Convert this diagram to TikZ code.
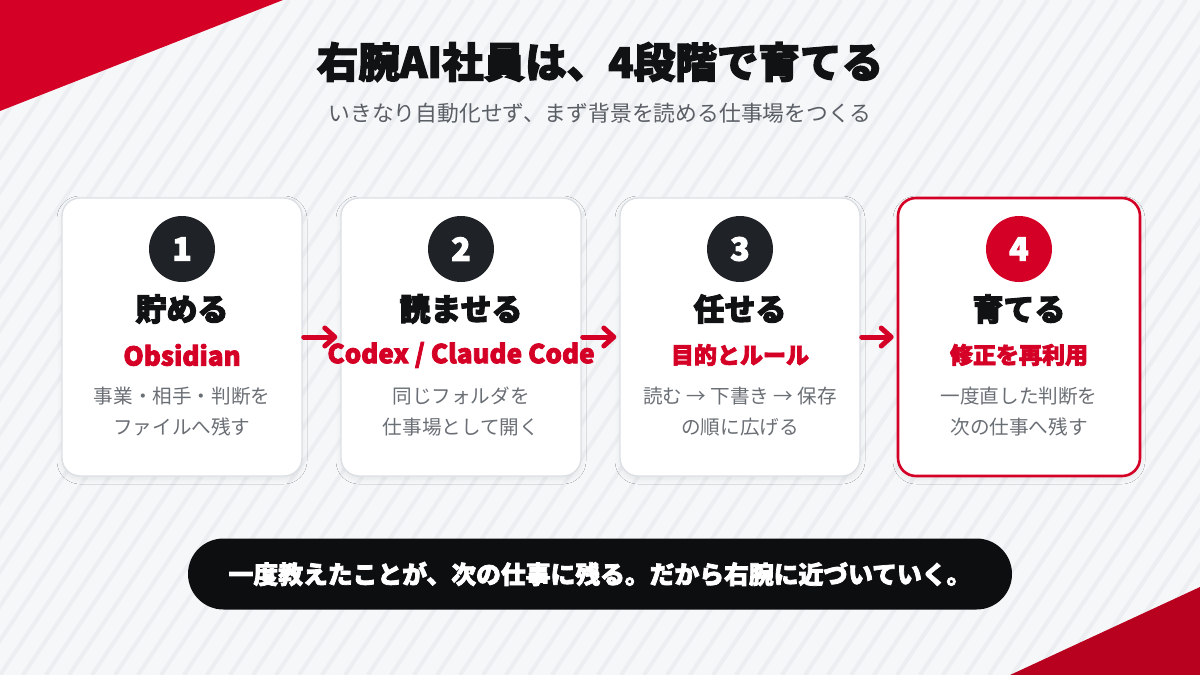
\documentclass[tikz,border=0pt]{standalone}
\usepackage{fontspec}
\setmainfont{Noto Sans CJK JP}
\newfontfamily\heavyfont[BoldFeatures={FakeBold=3}]{Noto Sans CJK JP}
\usetikzlibrary{arrows.meta,shadows.blur}

\definecolor{paper}{HTML}{F6F7F9}
\definecolor{stripegray}{HTML}{ECEEF1}
\definecolor{brandred}{HTML}{D50026}
\definecolor{deepred}{HTML}{B8001F}
\definecolor{ink}{HTML}{111213}
\definecolor{dotdark}{HTML}{1F2226}
\definecolor{textgray}{HTML}{5A5F65}
\definecolor{descgray}{HTML}{6A6F75}
\definecolor{cardline}{HTML}{DCE0E4}
\definecolor{pillblack}{HTML}{0D0E10}

\newcommand\latinbig{\fontsize{13}{14}\selectfont}

\tikzset{
  stripe/.style={stripegray, line width=2pt},
  card/.style={draw=cardline, line width=0.7pt, fill=white, rounded corners=9pt,
    minimum width=120pt, minimum height=139pt,
    blur shadow={shadow xshift=0pt, shadow yshift=-1.5pt, shadow opacity=7,
      shadow blur radius=2.5pt, shadow blur steps=6}},
  cardhot/.style={card, draw=brandred, line width=1.3pt, minimum width=121pt},
  numdark/.style={circle, fill=dotdark, minimum size=33pt, inner sep=0pt, text=white,
    font=\heavyfont\bfseries\fontsize{16}{16}\selectfont},
  numhot/.style={numdark, fill=brandred},
  headtext/.style={text=ink, font=\heavyfont\bfseries\fontsize{15.5}{16}\selectfont},
  tooltext/.style={text=brandred, font=\heavyfont\bfseries\fontsize{11.5}{12}\selectfont},
  desctext/.style={text=descgray, align=center, font=\fontsize{9.8}{15.5}\selectfont},
  flowarrow/.style={brandred, line width=2.5pt, line cap=round,
    -{Straight Barb[length=5pt, width=9pt, line width=2.5pt, round]},
    shorten <=0.5pt, shorten >=1.5pt}
}

\begin{document}
\begin{tikzpicture}[x=0.5pt, y=-0.5pt]
\useasboundingbox (0,0) rectangle (1200,675);
% background
\fill[paper] (0,0) rectangle (1200,675);
\begin{scope}
\clip (0,0) rectangle (1200,675);
\foreach \s in {-460,-437,...,1200}
  \draw[stripe] (\s,675) -- ++(450,-675);
\end{scope}
\fill[brandred] (0,0) -- (283,0) -- (0,111) -- cycle;
\fill[deepred] (1200,587) -- (1200,675) -- (1010,675) -- cycle;

% heading
\node[text=ink, font=\heavyfont\bfseries\fontsize{20.8}{22}\selectfont] (title) at (600,62) {右腕AI社員は、4段階で育てる};
\node[text=textgray, font=\fontsize{10.9}{12}\selectfont] (subtitle) at (600,113) {いきなり自動化せず、まず背景を読める仕事場をつくる};

% four stages
\foreach \i/\cx/\st/\dot/\head/\tool/\la/\lb in {
  1/182/card/numdark/貯める/{\latinbig Obsidian}/事業・相手・判断を/ファイルへ残す,
  2/461/card/numdark/読ませる/{\latinbig Codex / Claude Code}/同じフォルダを/仕事場として開く,
  3/740/card/numdark/任せる/目的とルール/読む → 下書き → 保存/の順に広げる,
  4/1019/cardhot/numhot/育てる/修正を再利用/一度直した判断を/次の仕事へ残す}{
  \node[\st] (card\i) at (\cx,337) {};
  \node[\dot] (num\i) at (\cx,249) {\i};
  \node[headtext] (head\i) at (\cx,309) {\head};
  \node[tooltext] (tool\i) at (\cx,355) {\tool};
  \node[desctext] (desc\i) at (\cx,412) {\la\\\lb};
}
\foreach \a/\b in {1/2,2/3,3/4}
  \draw[flowarrow] (card\a.east) -- (card\b.west);

% closing line
\node[fill=pillblack, rounded corners=17.75pt, minimum width=412pt, minimum height=35.5pt,
  text=white, font=\heavyfont\bfseries\fontsize{12.4}{13}\selectfont] (motto) at (600,574)
  {一度教えたことが、次の仕事に残る。だから右腕に近づいていく。};
\end{tikzpicture}
\end{document}
